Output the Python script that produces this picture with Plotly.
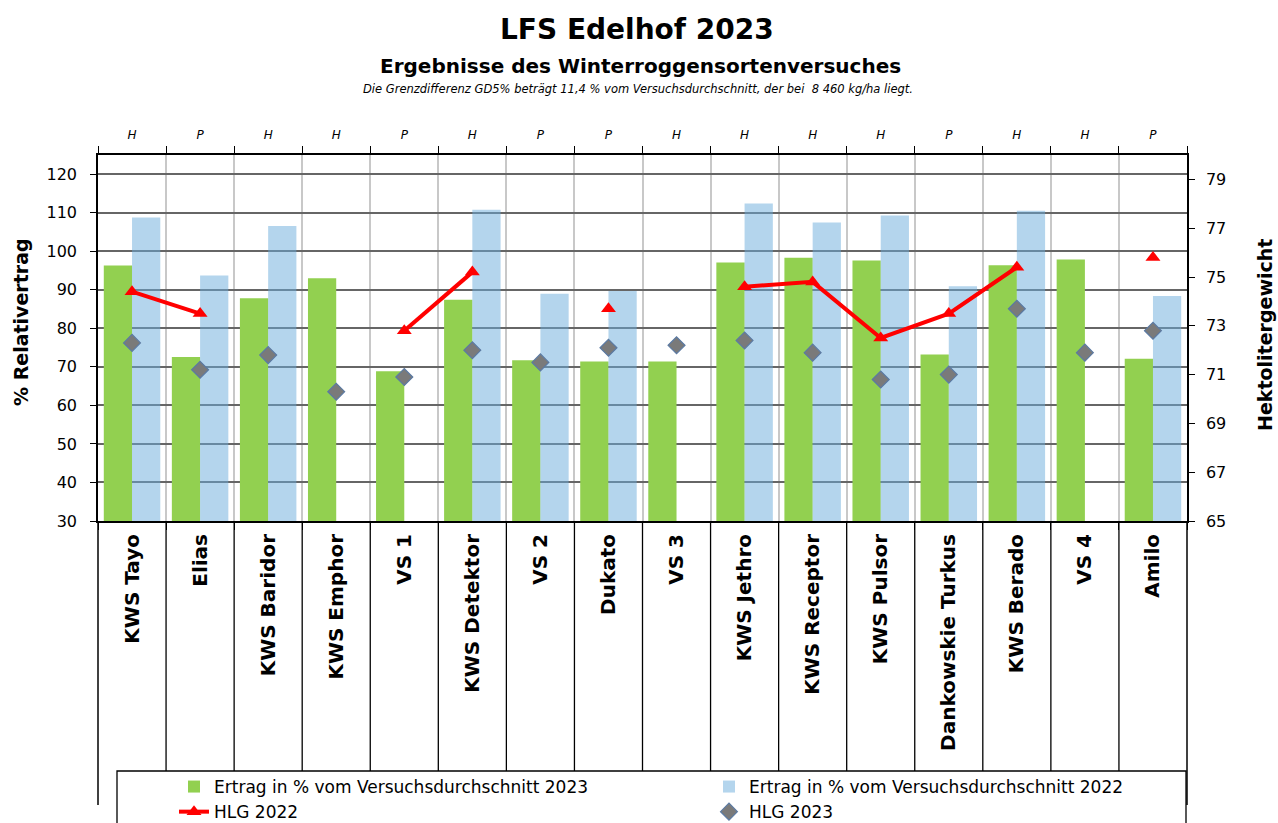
import plotly.graph_objects as go

# ---------------- data ----------------
sorten = ["KWS Tayo", "Elias", "KWS Baridor", "KWS Emphor", "VS 1", "KWS Detektor",
          "VS 2", "Dukato", "VS 3", "KWS Jethro", "KWS Receptor", "KWS Pulsor",
          "Dankowskie Turkus", "KWS Berado", "VS 4", "Amilo"]
sortentyp = ["H", "P", "H", "H", "P", "H", "P", "P", "H", "H", "H", "H", "P", "H", "H", "P"]

ertrag_2023 = [96.3, 72.6, 87.8, 93.0, 68.9, 87.4, 71.7, 71.4, 71.4, 97.1, 98.3, 97.6,
               73.2, 96.4, 97.9, 72.1]
ertrag_2022 = [108.8, 93.7, 106.6, None, None, 110.8, 89.0, 89.7, None, 112.4, 107.5,
               109.3, 90.9, 110.5, None, 88.4]
hlg_2022 = [74.4, 73.5, None, None, 72.8, 75.2, None, 73.7, None, 74.6, 74.8, 72.5,
            73.5, 75.4, None, 75.8]
hlg_2023 = [72.3, 71.2, 71.8, 70.3, 70.9, 72.0, 71.5, 72.1, 72.2, 72.4, 71.9, 70.8,
            71.0, 73.7, 71.9, 72.8]

title_text = "LFS Edelhof 2023"
subtitle_text = "Ergebnisse des Winterroggensortenversuches"
note_text = "Die Grenzdifferenz GD5% beträgt 11,4 % vom Versuchsdurchschnitt, der bei  8 460 kg/ha liegt."

# ---------------- layout geometry ----------------
W, H = 1278, 823
ML, MR, MT, MB = 98, 91, 155, 302
PW = W - ML - MR
PH = H - MT - MB


def px_x(x):
    return (x - ML) / PW


def px_y(y):
    return (H - MB - y) / PH


FONT = "DejaVu Sans"

fig = go.Figure()

fig.add_trace(go.Bar(
    x=sorten, y=ertrag_2023, name="Ertrag in % vom Versuchsdurchschnitt 2023",
    marker=dict(color="#92D050", line=dict(width=0)),
    xaxis="x", yaxis="y",
))
fig.add_trace(go.Bar(
    x=sorten, y=ertrag_2022, name="Ertrag in % vom Versuchsdurchschnitt 2022",
    marker=dict(color="rgba(105,171,219,0.5)", line=dict(width=0)),
    xaxis="x", yaxis="y",
))
fig.add_trace(go.Scatter(
    x=sorten, y=hlg_2022, name="HLG 2022", mode="lines+markers",
    line=dict(color="#FF0000", width=4),
    marker=dict(symbol="triangle-up", size=13, color="#FF0000"),
    connectgaps=False, xaxis="x2", yaxis="y2",
))
fig.add_trace(go.Scatter(
    x=sorten, y=hlg_2023, name="HLG 2023", mode="markers",
    marker=dict(symbol="diamond", size=13, color="#7a7a7a",
                line=dict(color="#5b7aa3", width=1.2)),
    xaxis="x2", yaxis="y2",
))

# ---------------- shapes ----------------
shapes = []
n = len(sorten)
# vertical separators in the label area below the plot
for i in range(n - 1):
    shapes.append(dict(type="line", xref="x", yref="paper", x0=i + 0.5, x1=i + 0.5,
                       y0=0, y1=px_y(771), line=dict(color="black", width=1.3)))
# axis lines extended below plot
for xp in (0, 1):
    shapes.append(dict(type="line", xref="paper", yref="paper", x0=xp, x1=xp,
                       y0=0, y1=px_y(805), line=dict(color="black", width=1.5)))
# legend frame
shapes.append(dict(type="rect", xref="paper", yref="paper",
                   x0=px_x(117), x1=px_x(1186), y0=px_y(771), y1=px_y(840),
                   line=dict(color="black", width=1.3), fillcolor="rgba(0,0,0,0)"))

# ---------------- annotations ----------------
annotations = [
    dict(text=title_text, xref="paper", yref="paper", x=px_x(637), y=px_y(29),
         showarrow=False, xanchor="center", yanchor="middle",
         font=dict(family=FONT, size=28, color="black", weight="bold")),
    dict(text=subtitle_text, xref="paper", yref="paper", x=px_x(640), y=px_y(66),
         showarrow=False, xanchor="center", yanchor="middle",
         font=dict(family=FONT, size=20, color="black", weight="bold")),
    dict(text=note_text, xref="paper", yref="paper", x=px_x(638), y=px_y(89),
         showarrow=False, xanchor="center", yanchor="middle",
         font=dict(family=FONT, size=11.5, color="black", style="italic")),
    dict(text="% Relativertrag", xref="paper", yref="paper", x=px_x(21), y=px_y(322),
         showarrow=False, xanchor="center", yanchor="middle", textangle=-90,
         font=dict(family=FONT, size=19, color="black", weight="bold")),
    dict(text="Hektolitergewicht", xref="paper", yref="paper", x=px_x(1265), y=px_y(335),
         showarrow=False, xanchor="center", yanchor="middle", textangle=-90,
         font=dict(family=FONT, size=19, color="black", weight="bold")),
]

fig.update_layout(
    width=W, height=H,
    margin=dict(l=ML, r=MR, t=MT, b=MB, autoexpand=False),
    paper_bgcolor="white", plot_bgcolor="white",
    barmode="group", bargap=0.17, bargroupgap=0,
    font=dict(family=FONT, color="black"),
    showlegend=True,
    legend=dict(orientation="h", x=px_x(174), y=px_y(769), xanchor="left", yanchor="top",
                entrywidth=490, entrywidthmode="pixels",
                font=dict(family=FONT, size=17, color="black"),
                bgcolor="rgba(0,0,0,0)", borderwidth=0, traceorder="normal"),
    xaxis=dict(
        type="category", categoryorder="array", categoryarray=sorten,
        range=[-0.5, n - 0.5], tickson="boundaries",
        showgrid=True, gridcolor="#c8c8c8", gridwidth=2,
        showline=True, linecolor="black", linewidth=2,
        ticks="outside", ticklen=7, tickcolor="black", tickwidth=1.3,
        tickangle=-90, ticklabelstandoff=3,
        tickfont=dict(family=FONT, size=20, color="black", weight="bold"),
        fixedrange=True,
    ),
    xaxis2=dict(
        type="category", categoryorder="array", categoryarray=sorten,
        range=[-0.5, n - 0.5], overlaying="x", side="top", anchor="y",
        tickson="boundaries", tickmode="array", tickvals=sorten, ticktext=sortentyp,
        showgrid=False, showline=True, linecolor="black", linewidth=2,
        ticks="outside", ticklen=7, tickcolor="black", tickwidth=1.3,
        tickangle=0, ticklabelstandoff=9,
        tickfont=dict(family=FONT, size=12, color="black", style="italic"),
    ),
    yaxis=dict(
        range=[30, 125], tick0=30, dtick=10,
        showgrid=True, gridcolor="#666666", gridwidth=2,
        showline=True, linecolor="black", linewidth=1.5,
        ticks="outside", ticklen=6, tickcolor="black", tickwidth=1.3,
        ticklabelstandoff=10,
        tickfont=dict(family=FONT, size=16, color="black"),
        zeroline=False,
    ),
    yaxis2=dict(
        range=[65, 80], tick0=65, dtick=2, overlaying="y", side="right", anchor="x",
        showgrid=False, showline=True, linecolor="black", linewidth=1.5,
        ticks="outside", ticklen=6, tickcolor="black", tickwidth=1.3,
        ticklabelstandoff=8,
        tickfont=dict(family=FONT, size=16, color="black"),
        zeroline=False,
    ),
    shapes=shapes,
    annotations=annotations,
)

fig.write_html("out.html",
               config={"displayModeBar": False},
               post_script="document.body.style.margin='0px';document.body.style.overflow='hidden';")
